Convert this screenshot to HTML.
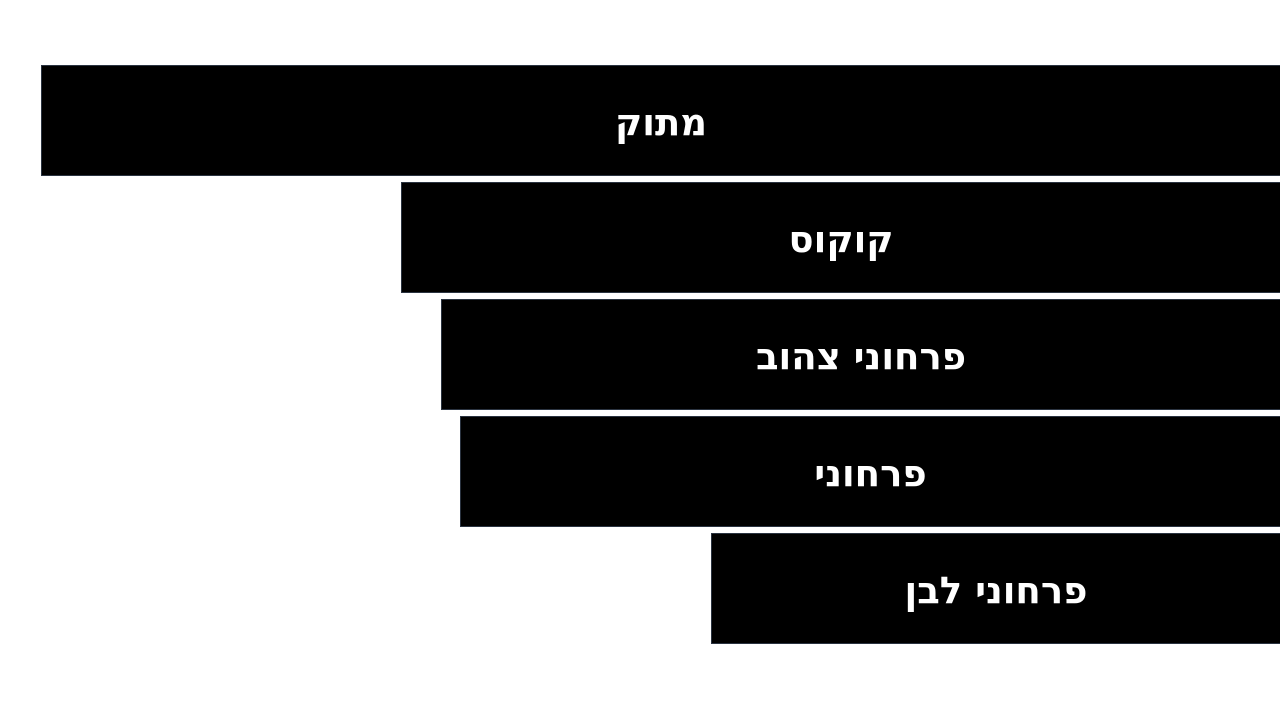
<!DOCTYPE html>
<html><head><meta charset="utf-8"><style>
html,body{margin:0;padding:0;background:#fff;width:1280px;height:720px;overflow:hidden}
.b{position:absolute;right:0;height:111px;background:#000;border:1px solid #2a3340;border-right:none;box-sizing:border-box;display:flex;align-items:center;justify-content:center;color:#fff;font-family:"DejaVu Sans","Liberation Sans",sans-serif;font-weight:bold;font-size:37px;direction:rtl;padding-top:4px}
</style></head><body>
<div class="b" style="left:41px;top:65px">מתוק</div>
<div class="b" style="left:401px;top:182px">קוקוס</div>
<div class="b" style="left:441px;top:299px">פרחוני צהוב</div>
<div class="b" style="left:460px;top:416px">פרחוני</div>
<div class="b" style="left:711px;top:533px">פרחוני לבן</div>
</body></html>
